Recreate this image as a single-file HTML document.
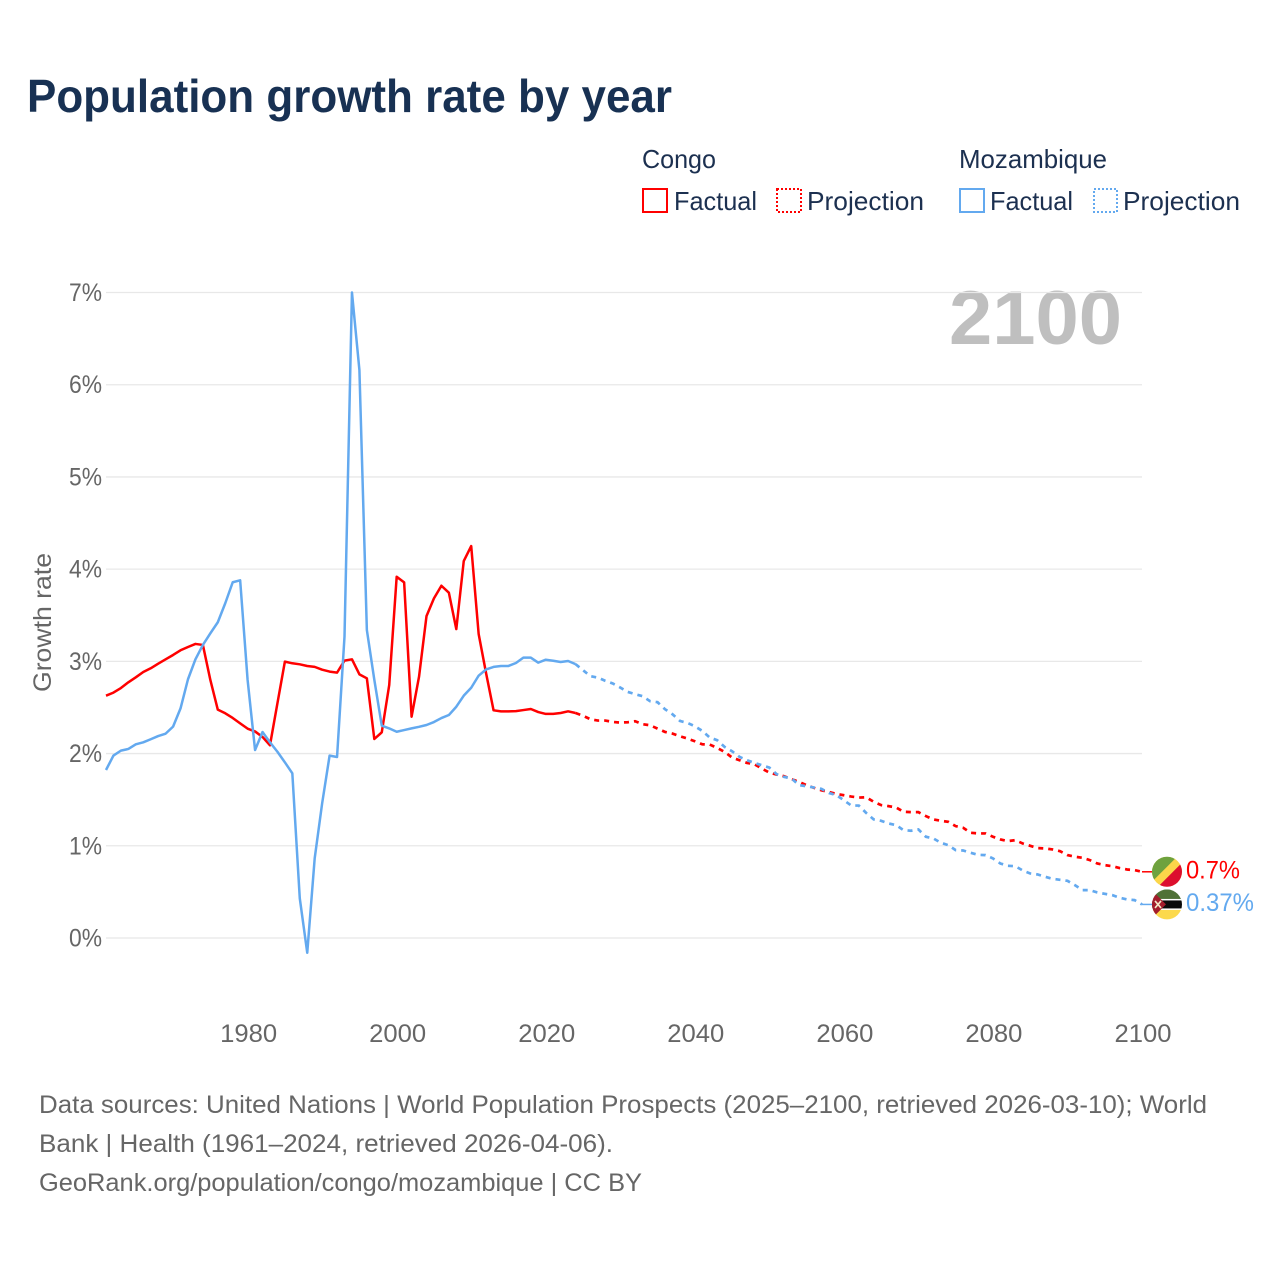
<!DOCTYPE html>
<html lang="en">
<head>
<meta charset="utf-8">
<title>Population growth rate by year</title>
<style>
html,body{margin:0;padding:0;background:#fff;}
svg{display:block;font-family:"Liberation Sans",sans-serif;}
</style>
</head>
<body>
<svg id="chart" xmlns="http://www.w3.org/2000/svg" width="1280" height="1280" viewBox="0 0 1280 1280">
  <rect width="1280" height="1280" fill="#fff"/>
  <text x="27" y="112" font-size="46.5" font-weight="700" fill="#183153" textLength="645" lengthAdjust="spacingAndGlyphs">Population growth rate by year</text>

  <g font-size="26" fill="#1c3050">
    <text x="642" y="168" textLength="74" lengthAdjust="spacingAndGlyphs">Congo</text>
    <text x="959" y="168" textLength="148" lengthAdjust="spacingAndGlyphs">Mozambique</text>
    <rect x="643" y="189" width="24" height="23" fill="none" stroke="#ff0000" stroke-width="2"/>
    <text x="674" y="210" textLength="83" lengthAdjust="spacingAndGlyphs">Factual</text>
    <rect x="777" y="189" width="24" height="23" fill="none" stroke="#ff0000" stroke-width="2" stroke-dasharray="2 2"/>
    <text x="807" y="210" textLength="117" lengthAdjust="spacingAndGlyphs">Projection</text>
    <rect x="960" y="189" width="24" height="23" fill="none" stroke="#63a9ef" stroke-width="2"/>
    <text x="990" y="210" textLength="83" lengthAdjust="spacingAndGlyphs">Factual</text>
    <rect x="1094" y="189" width="23" height="23" fill="none" stroke="#63a9ef" stroke-width="2" stroke-dasharray="2 2"/>
    <text x="1123" y="210" textLength="117" lengthAdjust="spacingAndGlyphs">Projection</text>
  </g>

  <text transform="translate(51,622.5) rotate(-90)" text-anchor="middle" font-size="25" fill="#666" textLength="139" lengthAdjust="spacingAndGlyphs">Growth rate</text>
  <text x="949" y="344" font-size="76" font-weight="700" fill="#bfbfbf" textLength="173" lengthAdjust="spacingAndGlyphs">2100</text>

  <g id="grid"></g>
  <g id="yticks"></g>
  <g id="xticks"></g>
  <g id="series"></g>
  <g id="ends"></g>

  <defs>
    <clipPath id="flagClip"><circle cx="0" cy="0" r="15"/></clipPath>
  </defs>

  <g font-size="25" fill="#666">
    <text x="39" y="1113" textLength="1168" lengthAdjust="spacingAndGlyphs">Data sources: United Nations | World Population Prospects (2025–2100, retrieved 2026-03-10); World</text>
    <text x="39" y="1152" textLength="574" lengthAdjust="spacingAndGlyphs">Bank | Health (1961–2024, retrieved 2026-04-06).</text>
    <text x="39" y="1191" textLength="603" lengthAdjust="spacingAndGlyphs">GeoRank.org/population/congo/mozambique | CC BY</text>
  </g>
</svg>

<script>
const factualYears = [1961,1962,1963,1964,1965,1966,1967,1968,1969,1970,1971,1972,1973,1974,1975,1976,1977,1978,1979,1980,1981,1982,1983,1984,1985,1986,1987,1988,1989,1990,1991,1992,1993,1994,1995,1996,1997,1998,1999,2000,2001,2002,2003,2004,2005,2006,2007,2008,2009,2010,2011,2012,2013,2014,2015,2016,2017,2018,2019,2020,2021,2022,2023,2024];
const projectionYears = [2024,2025,2026,2027,2028,2029,2030,2031,2032,2033,2034,2035,2036,2037,2038,2039,2040,2041,2042,2043,2044,2045,2046,2047,2048,2049,2050,2051,2052,2053,2054,2055,2056,2057,2058,2059,2060,2061,2062,2063,2064,2065,2066,2067,2068,2069,2070,2071,2072,2073,2074,2075,2076,2077,2078,2079,2080,2081,2082,2083,2084,2085,2086,2087,2088,2089,2090,2091,2092,2093,2094,2095,2096,2097,2098,2099,2100];

const congoFactual = [2.628,2.661,2.711,2.773,2.827,2.885,2.925,2.975,3.022,3.069,3.12,3.156,3.189,3.178,2.798,2.476,2.437,2.386,2.328,2.27,2.24,2.18,2.09,2.545,2.997,2.979,2.968,2.95,2.94,2.91,2.889,2.878,3.008,3.022,2.859,2.816,2.158,2.23,2.743,3.918,3.857,2.4,2.834,3.49,3.683,3.82,3.745,3.35,4.088,4.25,3.296,2.87,2.469,2.458,2.458,2.46,2.472,2.483,2.45,2.43,2.43,2.44,2.458,2.44];
const mozambiqueFactual = [1.822,1.978,2.032,2.05,2.1,2.122,2.155,2.19,2.216,2.292,2.49,2.806,3.022,3.178,3.304,3.424,3.63,3.858,3.879,2.798,2.039,2.234,2.122,2.02,1.905,1.786,0.43,-0.16,0.864,1.46,1.978,1.963,3.268,7.0,6.16,3.34,2.8,2.302,2.273,2.237,2.255,2.273,2.29,2.31,2.342,2.385,2.418,2.508,2.628,2.714,2.845,2.913,2.94,2.95,2.95,2.982,3.04,3.04,2.986,3.018,3.007,2.993,3.004,2.97];
const congoProjection = [2.44,2.41,2.372,2.358,2.358,2.343,2.336,2.34,2.351,2.318,2.307,2.271,2.235,2.217,2.188,2.163,2.134,2.101,2.098,2.061,2.018,1.957,1.928,1.899,1.884,1.837,1.794,1.772,1.754,1.722,1.693,1.657,1.628,1.602,1.584,1.563,1.548,1.534,1.523,1.526,1.477,1.441,1.43,1.416,1.369,1.365,1.365,1.322,1.286,1.271,1.26,1.213,1.195,1.141,1.134,1.134,1.098,1.069,1.051,1.061,1.025,1.0,0.975,0.971,0.96,0.942,0.899,0.881,0.87,0.845,0.808,0.79,0.779,0.758,0.743,0.736,0.718];
const mozambiqueProjection = [2.97,2.904,2.839,2.824,2.788,2.76,2.716,2.669,2.644,2.622,2.568,2.557,2.481,2.427,2.354,2.333,2.296,2.246,2.174,2.145,2.072,2.025,1.964,1.928,1.899,1.873,1.848,1.776,1.747,1.729,1.657,1.646,1.631,1.617,1.573,1.548,1.494,1.436,1.436,1.356,1.286,1.271,1.242,1.224,1.17,1.163,1.177,1.098,1.08,1.033,1.007,0.953,0.949,0.924,0.902,0.899,0.863,0.808,0.783,0.779,0.732,0.7,0.689,0.664,0.642,0.631,0.62,0.573,0.519,0.519,0.494,0.479,0.465,0.436,0.418,0.411,0.364];

const yTickValues = [0,1,2,3,4,5,6,7];
const yTickLabels = ['0%','1%','2%','3%','4%','5%','6%','7%'];
const xTickValues = [1980,2000,2020,2040,2060,2080,2100];
const xTickLabels = ['1980','2000','2020','2040','2060','2080','2100'];
const endValueLabels = ['0.7%','0.37%'];

const NS = 'http://www.w3.org/2000/svg';
function xScale(year){ return 106 + (year - 1961) * (1142 - 106) / (2100 - 1961); }
function yScale(v){ return 938 - v * (938 - 292.5) / 7; }
function make(tag, attrs, parent){
  const el = document.createElementNS(NS, tag);
  for (const k in attrs) el.setAttribute(k, attrs[k]);
  parent.appendChild(el);
  return el;
}
function linePath(xs, vs){
  return vs.map((v,i) => (i ? 'L' : 'M') + xScale(xs[i]).toFixed(2) + ' ' + yScale(v).toFixed(2)).join('');
}

const gridG = document.getElementById('grid');
const yG = document.getElementById('yticks');
yTickValues.forEach((v,i) => {
  const ln = make('line', {x1:xScale(1961), x2:xScale(2100), y1:yScale(v), y2:yScale(v), stroke:'#e8e8e8', 'stroke-width':1.3}, gridG);
  
  
  const t = make('text', {x:102, y:yScale(v)+8.5, 'text-anchor':'end', 'font-size':25, fill:'#666', textLength:33, lengthAdjust:'spacingAndGlyphs'}, yG);
  
  
  t.textContent = yTickLabels[i];
});

const xG = document.getElementById('xticks');
xTickValues.forEach((yr,i) => {
  const t = make('text', {x:xScale(yr)+1, y:1042, 'text-anchor':'middle', 'font-size':25, fill:'#666', textLength:57, lengthAdjust:'spacingAndGlyphs'}, xG);
  
  
  t.textContent = xTickLabels[i];
});

const sG = document.getElementById('series');
const RED = '#ff0000', BLUE = '#63a9ef';
const lineFactualCongo = make('path', {d:linePath(factualYears, congoFactual), fill:'none', stroke:RED, 'stroke-width':2.5, 'stroke-linejoin':'round'}, sG);


const lineProjCongo = make('path', {d:linePath(projectionYears, congoProjection), fill:'none', stroke:RED, 'stroke-width':2.7, 'stroke-dasharray':'5 5'}, sG);


const lineFactualMoz = make('path', {d:linePath(factualYears, mozambiqueFactual), fill:'none', stroke:BLUE, 'stroke-width':2.5, 'stroke-linejoin':'round'}, sG);


const lineProjMoz = make('path', {d:linePath(projectionYears, mozambiqueProjection), fill:'none', stroke:BLUE, 'stroke-width':2.7, 'stroke-dasharray':'5 5'}, sG);



/* end markers: leader line, round flag, printed value */
const endsG = document.getElementById('ends');
const flagX = 1167;
function addEnd(lastValue, color, label, key, drawFlag){
  const py = yScale(lastValue);
  const lead = make('line', {x1:xScale(2100), x2:flagX-15, y1:py, y2:py, stroke:color, 'stroke-width':1.5}, endsG);
  
  
  const flag = make('g', {transform:'translate(' + flagX + ',' + py + ')', 'clip-path':'url(#flagClip)'}, endsG);
  
  
  drawFlag(flag);
  const t = make('text', {x:1186, y:py+6.5, 'font-size':25, fill:color, textLength:label.length > 4 ? 68 : 54, lengthAdjust:'spacingAndGlyphs'}, endsG);
  
  
  t.textContent = label;
}
addEnd(congoProjection[congoProjection.length-1], RED, endValueLabels[0], 'congo', f => {
  make('rect', {x:-15, y:-15, width:30, height:30, fill:'#fbd64a'}, f);
  make('polygon', {points:'-16,-16 11,-16 -16,11', fill:'#6ea23e'}, f);
  make('polygon', {points:'16,-10 16,16 -10,16', fill:'#dc0f2e'}, f);
});
addEnd(mozambiqueProjection[mozambiqueProjection.length-1], BLUE, endValueLabels[1], 'mozambique', f => {
  make('rect', {x:-15, y:-15, width:30, height:10, fill:'#4f7136'}, f);
  make('rect', {x:-15, y:-5.5, width:30, height:11, fill:'#fff'}, f);
  make('rect', {x:-15, y:-4, width:30, height:8, fill:'#0b0b0b'}, f);
  make('rect', {x:-15, y:5.5, width:30, height:10, fill:'#fcd94c'}, f);
  make('polygon', {points:'-16,-15 -1,0 -16,15', fill:'#a31d2c'}, f);
  make('path', {d:'M-12 -3.5L-6 3.5M-6 -3.5L-12 3.5', stroke:'#f4e9c8', 'stroke-width':1.6, fill:'none'}, f);
});
</script>
</body>
</html>
